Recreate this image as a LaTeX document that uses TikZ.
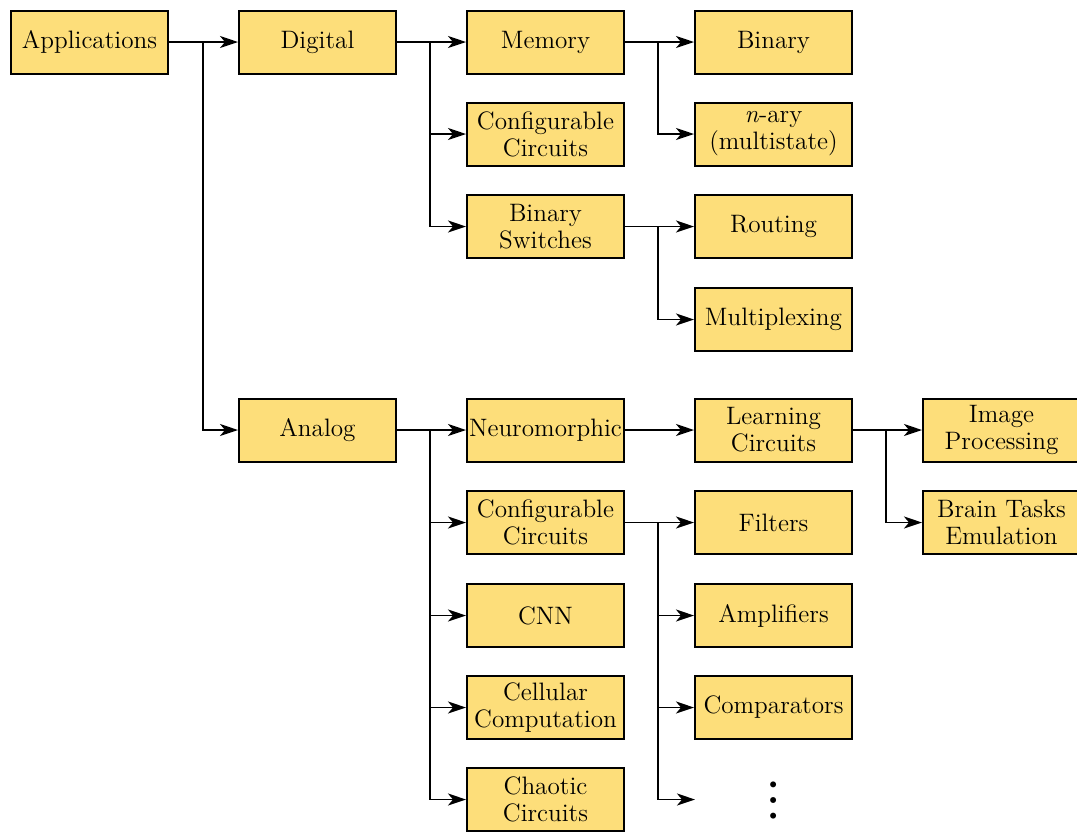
\documentclass[tikz,border=0pt]{standalone}
\usepackage{fontspec}
\newfontfamily\lmmath{latinmodern-math.otf}
\usetikzlibrary{arrows.meta}
\definecolor{boxyellow}{HTML}{FDDE7A}
\begin{document}
\begin{tikzpicture}[x=0.5pt,y=-0.5pt,
  box/.style={draw, line width=1pt, fill=boxyellow, minimum width=78.5pt, minimum height=31.5pt,
    inner sep=1pt, align=center, font=\fontsize{12.6}{13.5}\selectfont},
  conn/.style={line width=0.95pt, -{Stealth[length=9pt,width=6pt,inset=2.5pt]}}]
\useasboundingbox (0,0) rectangle (1077,832);
% column 0/1
\node[box] (app) at (89.5,42) {Applications};
\node[box] (dig) at (317.5,42) {Digital};
\node[box] (ana) at (317.5,430) {Analog};
% column 2
\node[box] (mem) at (545.5,42) {Memory};
\node[box] (cfgd) at (545.5,134) {Configurable\\Circuits};
\node[box] (bsw) at (545.5,226.5) {Binary\\Switches};
\node[box] (neu) at (545.5,430) {Neuromorphic};
\node[box] (cfga) at (545.5,522.5) {Configurable\\Circuits};
\node[box] (cnn) at (545.5,615.5) {CNN};
\node[box] (cell) at (545.5,707.5) {Cellular\\Computation};
\node[box] (chaos) at (545.5,799.5) {Chaotic\\Circuits};
% column 3
\node[box] (bin) at (773.5,42) {Binary};
\node[box] (nary) at (773.5,134) {\textit{n}-ary\\(multistate)};
\node[box] (rout) at (773.5,226.5) {Routing};
\node[box] (mux) at (773.5,319.5) {Multiplexing};
\node[box] (learn) at (773.5,430) {Learning\\Circuits};
\node[box] (filt) at (773.5,522.5) {Filters};
\node[box] (amp) at (773.5,615.5) {Amplifiers};
\node[box] (comp) at (773.5,707.5) {Comparators};
\node[inner sep=0pt, font=\lmmath\fontsize{28}{28}\selectfont] (dots) at (773.5,800) {⋮};
% column 4
\node[box] (img) at (1001.5,430) {Image\\Processing};
\node[box] (brain) at (1001.5,522.5) {Brain Tasks\\Emulation};
% branch points
\coordinate (b1) at (203,42);
\coordinate (b2) at (430,42);
\coordinate (b3) at (658,42);
\coordinate (b4) at (658,226.5);
\coordinate (b5) at (430,430);
\coordinate (b6) at (886,430);
\coordinate (b7) at (658,522.5);
\coordinate (dotsend) at (695,799.5);
% connectors
\draw[conn] (app.east) -- (dig.west);
\draw[conn] (b1) |- (ana.west);
\draw[conn] (dig.east) -- (mem.west);
\draw[conn] (b2) |- (cfgd.west);
\draw[conn] (b2) |- (bsw.west);
\draw[conn] (mem.east) -- (bin.west);
\draw[conn] (b3) |- (nary.west);
\draw[conn] (bsw.east) -- (rout.west);
\draw[conn] (b4) |- (mux.west);
\draw[conn] (ana.east) -- (neu.west);
\draw[conn] (b5) |- (cfga.west);
\draw[conn] (b5) |- (cnn.west);
\draw[conn] (b5) |- (cell.west);
\draw[conn] (b5) |- (chaos.west);
\draw[conn] (neu.east) -- (learn.west);
\draw[conn] (learn.east) -- (img.west);
\draw[conn] (b6) |- (brain.west);
\draw[conn] (cfga.east) -- (filt.west);
\draw[conn] (b7) |- (amp.west);
\draw[conn] (b7) |- (comp.west);
\draw[conn] (b7) |- (dotsend);
\end{tikzpicture}
\end{document}
